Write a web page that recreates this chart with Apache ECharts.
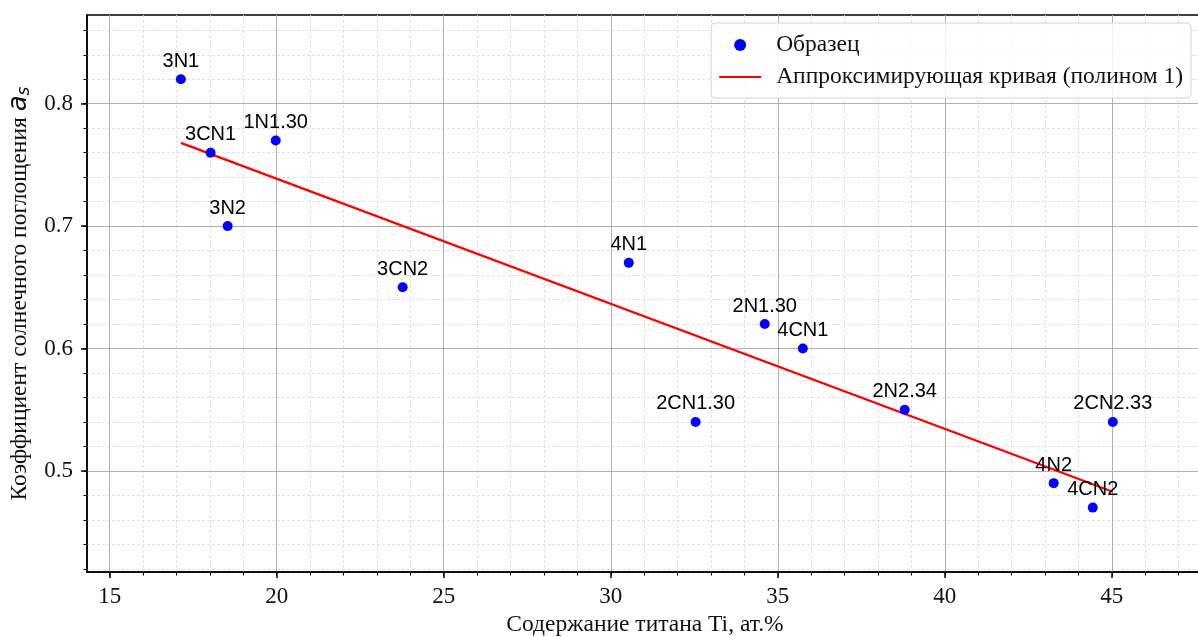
<!DOCTYPE html>
<html>
<head>
<meta charset="utf-8">
<script src="https://cdn.jsdelivr.net/npm/echarts@6/dist/echarts.min.js"></script>
<style>html,body{margin:0;padding:0;background:#fff;overflow:hidden}#c{width:1198px;height:637px}</style>
</head>
<body>
<div id="c"></div>
<script>
var sampleNames = ['3N1','3CN1','1N1.30','3N2','3CN2','4N1','2N1.30','4CN1','2CN1.30','2N2.34','2CN2.33','4N2','4CN2'];
var tiContent = [17.13, 18.02, 19.97, 18.53, 23.77, 30.54, 34.61, 35.75, 32.54, 38.80, 45.03, 43.26, 44.43];
var absorption = [0.82, 0.76, 0.77, 0.70, 0.65, 0.67, 0.62, 0.60, 0.54, 0.55, 0.54, 0.49, 0.47];
var fitX = [17.13, 45.03];
var fitY = [0.768, 0.483];
var xMajorTicks = [15, 20, 25, 30, 35, 40, 45];
var xMinorTicks = [15,16,17,18,19,20,21,22,23,24,25,26,27,28,29,30,31,32,33,34,35,36,37,38,39,40,41,42,43,44,45,46,47];
var yMajorTicks = [0.5, 0.6, 0.7, 0.8];
var yMinorTicks = [0.42,0.44,0.46,0.48,0.5,0.52,0.54,0.56,0.58,0.6,0.62,0.64,0.66,0.68,0.7,0.72,0.74,0.76,0.78,0.8,0.82,0.84,0.86];

var X_MIN = 14.32, X_MAX = 47.73, Y_MIN = 0.4174, Y_MAX = 0.8725;
var serif = '"Liberation Serif", "Times New Roman", serif';
var sans = '"Liberation Sans", Arial, sans-serif';

var chart = echarts.init(document.getElementById('c'), null, {renderer: 'canvas'});
var scatterData = tiContent.map(function (x, i) { return {value: [x, absorption[i]], name: sampleNames[i]}; });
var fitData = fitX.map(function (x, i) { return [x, fitY[i]]; });

function majorX(extra) {
  return Object.assign({
    type: 'value', min: X_MIN, max: X_MAX, gridIndex: 0
  }, extra);
}

chart.setOption({
  animation: false,
  backgroundColor: '#fff',
  grid: {left: 87, top: 15, width: 1116, bottom: 65, show: true, borderColor: '#000', borderWidth: 1.5, backgroundColor: 'transparent', containLabel: false, outerBoundsMode: 'none'},
  legend: {
    orient: 'vertical', right: 7, top: 23,
    padding: [10, 8, 9, 8], itemGap: 8, itemWidth: 42, itemHeight: 12,
    backgroundColor: 'rgba(255,255,255,0.85)', borderColor: '#d5d5d5', borderWidth: 1, borderRadius: 4,
    textStyle: {fontFamily: serif, fontSize: 23.5, color: '#111', padding: [0, 0, 0, 10]},
    data: [
      {name: 'Образец', icon: 'circle'},
      {name: 'Аппроксимирующая кривая (полином 1)', icon: 'path://M0,0H42V2.2H0Z'}
    ]
  },
  xAxis: [
    majorX({
      position: 'bottom',
      name: 'Содержание титана Ti, ат.%', nameLocation: 'middle', nameGap: 41,
      nameTextStyle: {fontFamily: serif, fontSize: 23.5, color: '#111'},
      axisLine: {show: true, onZero: false, lineStyle: {color: '#000', width: 1.5}},
      axisTick: {show: true, inside: false, length: 6, customValues: xMajorTicks, lineStyle: {color: '#000', width: 1.5}},
      axisLabel: {customValues: xMajorTicks, margin: 13, fontFamily: serif, fontSize: 23, color: '#111'},
      splitLine: {show: true, lineStyle: {color: '#b0b0b0', width: 1}},
      z: 3
    }),
    majorX({
      position: 'bottom',
      axisLine: {show: false, onZero: false},
      axisTick: {show: true, length: 3.5, customValues: xMinorTicks, lineStyle: {color: '#000', width: 1}},
      axisLabel: {show: false},
      splitLine: {show: true, lineStyle: {color: '#dadada', width: 0.8, type: [3, 2]}},
      z: 1
    })
  ],
  yAxis: [
    {
      type: 'value', min: Y_MIN, max: Y_MAX, position: 'left',
      name: '{t|Коэффициент солнечного поглощения }{a|a}{s|s}', nameLocation: 'middle', nameGap: 52, nameRotate: 90,
      nameTextStyle: {
        fontFamily: serif, fontSize: 23.5, color: '#111',
        rich: {
          t: {fontFamily: serif, fontSize: 23.5, color: '#111'},
          a: {fontFamily: '"DejaVu Sans", sans-serif', fontStyle: 'italic', fontSize: 26, color: '#111'},
          s: {fontFamily: '"DejaVu Sans", sans-serif', fontStyle: 'italic', fontSize: 17, color: '#111', padding: [11, 0, 0, 0]}
        }
      },
      axisLine: {show: true, onZero: false, lineStyle: {color: '#000', width: 1.5}},
      axisTick: {show: true, length: 6, customValues: yMajorTicks, lineStyle: {color: '#000', width: 1.5}},
      axisLabel: {customValues: yMajorTicks, margin: 14, fontFamily: serif, fontSize: 23, color: '#111', formatter: function (v) { return String(Math.round(v * 10) / 10); }},
      splitLine: {show: true, lineStyle: {color: '#b0b0b0', width: 1}},
      z: 3
    },
    {
      type: 'value', min: Y_MIN, max: Y_MAX, position: 'left',
      axisLine: {show: false, onZero: false},
      axisTick: {show: true, length: 3.5, customValues: yMinorTicks, lineStyle: {color: '#000', width: 1}},
      axisLabel: {show: false},
      splitLine: {show: true, lineStyle: {color: '#dadada', width: 0.8, type: [3, 2]}},
      z: 1
    }
  ],
  series: [
    {
      name: 'Образец', type: 'scatter', xAxisIndex: 0, yAxisIndex: 0,
      symbol: 'circle', symbolSize: 10,
      itemStyle: {color: '#0000ff', opacity: 1},
      label: {show: true, position: 'top', distance: 3, formatter: '{b}', fontFamily: sans, fontSize: 20, color: '#000', lineHeight: 20},
      data: scatterData, z: 5
    },
    {
      name: 'Аппроксимирующая кривая (полином 1)', type: 'line', xAxisIndex: 0, yAxisIndex: 0,
      symbol: 'none', lineStyle: {color: '#ff0000', width: 2.2}, itemStyle: {color: '#ff0000'},
      data: fitData, z: 4
    }
  ]
});
</script>
</body>
</html>
